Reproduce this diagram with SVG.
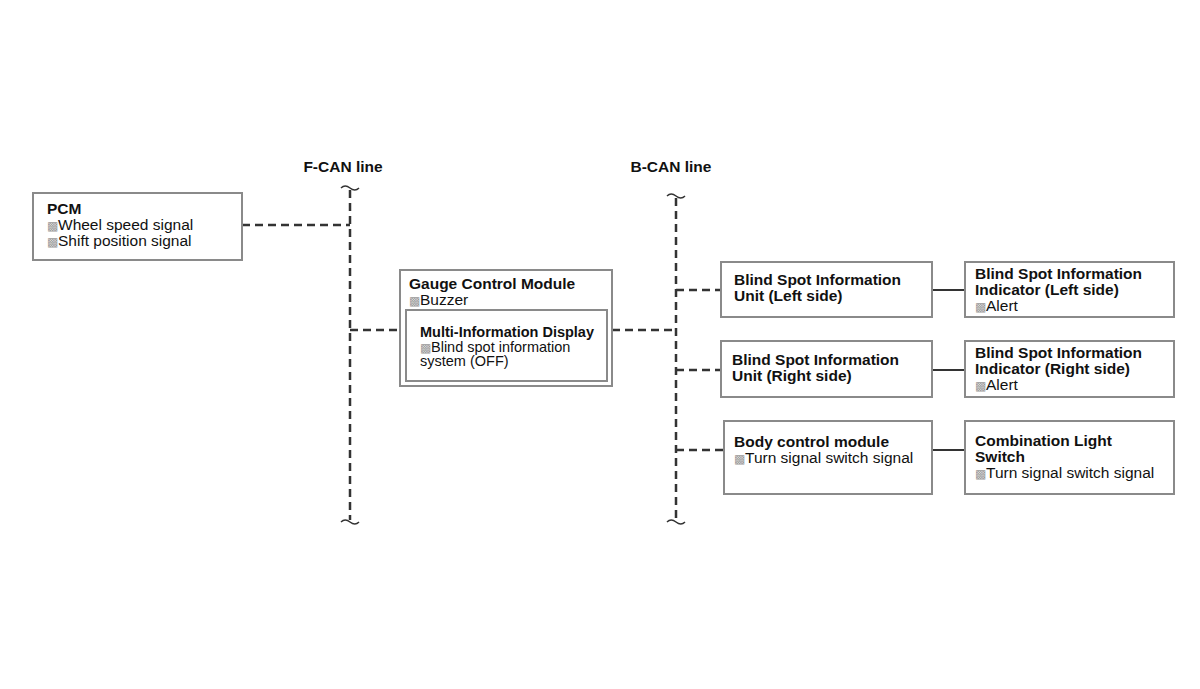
<svg xmlns="http://www.w3.org/2000/svg" width="1200" height="689" viewBox="0 0 1200 689">
<style>
.box{fill:#fff;stroke:#8a8a8a;stroke-width:2}
.d{stroke:#333;stroke-width:2.5;stroke-dasharray:8,5;fill:none}
.s{stroke:#333;stroke-width:2;fill:none}
.t{stroke:#333;stroke-width:1.5;fill:none}
text{font-family:"Liberation Sans",Arial,sans-serif;font-size:15.5px;fill:#111}
.b{font-weight:bold}
.i{fill:#999;font-size:12px}
.m{font-size:14.5px}
</style>
<rect width="1200" height="689" fill="#fff"/>
<text class="b" x="343" y="172" text-anchor="middle">F-CAN line</text>
<text class="b" x="671" y="172" text-anchor="middle">B-CAN line</text>
<g id="connectors">
<path class="t" d="M341,188 q4,-4 9,0 q5,4 9,0 M341,522 q4,-4 9,0 q5,4 9,0 M667,196 q4,-4 9,0 q5,4 9,0 M667,522 q4,-4 9,0 q5,4 9,0"/>
<line class="d" x1="350" y1="190" x2="350" y2="520"/>
<line class="d" x1="676" y1="198" x2="676" y2="520"/>
<line class="d" x1="242" y1="225" x2="350" y2="225"/>
<line class="d" x1="350" y1="330" x2="400" y2="330"/>
<line class="d" x1="612" y1="330" x2="676" y2="330"/>
<line class="d" x1="676" y1="290" x2="721" y2="290"/>
<line class="d" x1="676" y1="370" x2="721" y2="370"/>
<line class="d" x1="676" y1="450" x2="724" y2="450"/>
<line class="s" x1="932" y1="290" x2="965" y2="290"/>
<line class="s" x1="932" y1="370" x2="965" y2="370"/>
<line class="s" x1="932" y1="450" x2="965" y2="450"/>
</g>
<g id="pcm"><rect class="box" x="33" y="193" width="209" height="67"/>
<text class="b" x="47" y="214">PCM</text>
<text x="47" y="230"><tspan class="i">▩</tspan>Wheel speed signal</text>
<text x="47" y="246"><tspan class="i">▩</tspan>Shift position signal</text></g>
<g id="gauge"><rect class="box" x="400" y="270" width="212" height="116"/>
<text class="b" x="409" y="289">Gauge Control Module</text>
<text x="409" y="305"><tspan class="i">▩</tspan>Buzzer</text>
<g id="mid"><rect class="box" x="406" y="310" width="201" height="71"/>
<text class="b m" x="420" y="337">Multi-Information Display</text>
<text class="m" x="420" y="352"><tspan class="i">▩</tspan>Blind spot information</text>
<text class="m" x="420" y="366">system (OFF)</text></g></g>
<g id="bsiu-left"><rect class="box" x="721" y="262" width="211" height="55"/>
<text class="b" x="734" y="285">Blind Spot Information</text>
<text class="b" x="734" y="301">Unit (Left side)</text></g>
<g id="bsiu-right"><rect class="box" x="721" y="341" width="211" height="56"/>
<text class="b" x="732" y="365">Blind Spot Information</text>
<text class="b" x="732" y="381">Unit (Right side)</text></g>
<g id="bcm"><rect class="box" x="724" y="421" width="208" height="73"/>
<text class="b" x="734" y="447">Body control module</text>
<text x="734" y="463"><tspan class="i">▩</tspan>Turn signal switch signal</text></g>
<g id="bsii-left"><rect class="box" x="965" y="262" width="209" height="55"/>
<text class="b" x="975" y="279">Blind Spot Information</text>
<text class="b" x="975" y="295">Indicator (Left side)</text>
<text x="975" y="311"><tspan class="i">▩</tspan>Alert</text></g>
<g id="bsii-right"><rect class="box" x="965" y="341" width="209" height="56"/>
<text class="b" x="975" y="358">Blind Spot Information</text>
<text class="b" x="975" y="374">Indicator (Right side)</text>
<text x="975" y="390"><tspan class="i">▩</tspan>Alert</text></g>
<g id="cls"><rect class="box" x="965" y="421" width="209" height="73"/>
<text class="b" x="975" y="446">Combination Light</text>
<text class="b" x="975" y="462">Switch</text>
<text x="975" y="478"><tspan class="i">▩</tspan>Turn signal switch signal</text></g>
</svg>
